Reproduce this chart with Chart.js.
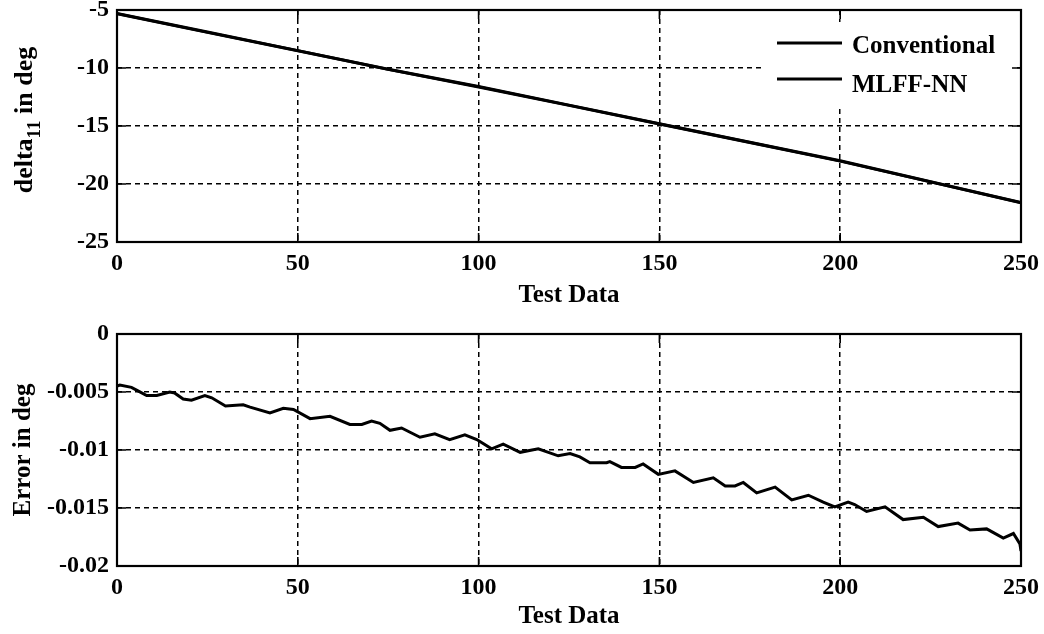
<!DOCTYPE html>
<html><head><meta charset="utf-8">
<script src="https://cdn.jsdelivr.net/npm/chart.js@4/dist/chart.umd.min.js"></script>
<style>
html,body{margin:0;padding:0;background:#fff;width:1044px;height:634px;overflow:hidden}
canvas{position:absolute;left:0}
#c1{top:0}#c2{top:317px}
</style></head><body>
<canvas id="c1" width="1044" height="317"></canvas>
<canvas id="c2" width="1044" height="317"></canvas>
<script>
// ---- data ----
const xTicks = [0, 50, 100, 150, 200, 250];
const topYTicks = [-25, -20, -15, -10, -5];
const errYTicks = [-0.02, -0.015, -0.01, -0.005, 0];
const errYLabels = ['-0.02', '-0.015', '-0.01', '-0.005', '0'];

const testX = [0, 25, 50, 75, 100, 125, 150, 175, 200, 225, 250];
const conventional = [-5.3, -6.9, -8.5, -10.1, -11.6, -13.2, -14.8, -16.4, -18.0, -19.8, -21.6];
const mlffnn = [-5.32, -6.93, -8.52, -10.12, -11.63, -13.22, -14.83, -16.42, -18.03, -19.82, -21.63];

const errX = [0, 0.8, 4, 5.8, 8.2, 11, 14.6, 16, 18.3, 20.6, 24.3, 26.2, 30, 34.9, 36.8, 42.3, 46, 48.8,
  53.4, 58.9, 64.4, 67.7, 70.4, 72.7, 75.5, 78.7, 83.8, 87.9, 92, 96.2, 99.5, 103.6, 106.8, 111.5, 116.5,
  122, 125.3, 128, 130.8, 135.4, 136.3, 139.5, 143.3, 145.5, 149.7, 154.3, 159.4, 164.9, 168.2, 170.9,
  173.2, 176.9, 182, 186.6, 191.2, 195.3, 198.5, 202.2, 204, 207.3, 212.4, 217.4, 223, 227.1, 232.6,
  235.9, 240.5, 245.1, 247.9, 249.7, 250];
const errY = [-0.0045, -0.0044, -0.0046, -0.0049, -0.0053, -0.0053, -0.0050, -0.0051, -0.0056, -0.0057,
  -0.0053, -0.0055, -0.0062, -0.0061, -0.0063, -0.0068, -0.0064, -0.0065, -0.0073, -0.0071, -0.0078,
  -0.0078, -0.0075, -0.0077, -0.0083, -0.0081, -0.0089, -0.0086, -0.0091, -0.0087, -0.0091, -0.0099,
  -0.0095, -0.0102, -0.0099, -0.0105, -0.0103, -0.0106, -0.0111, -0.0111, -0.0110, -0.0115, -0.0115,
  -0.0112, -0.0121, -0.0118, -0.0128, -0.0124, -0.0131, -0.0131, -0.0128, -0.0137, -0.0132, -0.0143,
  -0.0139, -0.0145, -0.0149, -0.0145, -0.0147, -0.0153, -0.0149, -0.0160, -0.0158, -0.0166, -0.0163,
  -0.0169, -0.0168, -0.0176, -0.0172, -0.0181, -0.0187];

// ---- style ----
const FONT = "'Liberation Serif', 'Times New Roman', serif";
Chart.defaults.color = '#000';
Chart.defaults.font.family = FONT;
Chart.defaults.font.weight = 'bold';

const framePlugin = {
  id: 'frame',
  afterDraw(chart) {
    const {ctx, chartArea: a, scales: {x, y}} = chart;
    ctx.save();
    ctx.strokeStyle = '#000';
    ctx.setLineDash([]);
    ctx.lineWidth = 1.6;
    ctx.beginPath();
    x.ticks.forEach(t => {
      const p = x.getPixelForValue(t.value);
      ctx.moveTo(p, a.bottom); ctx.lineTo(p, a.bottom - 9);
      ctx.moveTo(p, a.top); ctx.lineTo(p, a.top + 9);
    });
    y.ticks.forEach(t => {
      const p = y.getPixelForValue(t.value);
      ctx.moveTo(a.left, p); ctx.lineTo(a.left + 9, p);
      ctx.moveTo(a.right, p); ctx.lineTo(a.right - 9, p);
    });
    ctx.stroke();
    ctx.lineWidth = 2.2;
    ctx.strokeRect(a.left, a.top, a.right - a.left, a.bottom - a.top);
    ctx.restore();
  }
};

const legendPlugin = {
  id: 'insideLegend',
  afterDatasetsDraw(chart) {
    const {ctx, chartArea: a} = chart;
    ctx.save();
    ctx.fillStyle = '#fff';
    ctx.fillRect(a.right - 258, a.top + 12, 252, 84);
    ctx.strokeStyle = '#000';
    ctx.lineWidth = 3;
    ctx.font = 'bold 25px ' + FONT;
    ctx.fillStyle = '#000';
    ctx.textBaseline = 'alphabetic';
    const rows = [[a.top + 33, a.top + 43], [a.top + 69, a.top + 82]];
    chart.data.datasets.forEach((ds, i) => {
      ctx.beginPath();
      ctx.moveTo(a.right - 244, rows[i][0]);
      ctx.lineTo(a.right - 179, rows[i][0]);
      ctx.stroke();
      ctx.fillText(ds.label, a.right - 169, rows[i][1]);
    });
    ctx.restore();
  }
};

const yTitlePlugin = {
  id: 'yTitleSub',
  afterDraw(chart) {
    const {ctx, chartArea: a} = chart;
    const main = 'bold 26px ' + FONT, sub = 'bold 19px ' + FONT;
    const p1 = 'delta', p2 = '11', p3 = ' in deg';
    ctx.save();
    ctx.font = main; const w1 = ctx.measureText(p1).width, w3 = ctx.measureText(p3).width;
    ctx.font = sub; const w2 = ctx.measureText(p2).width;
    const total = w1 + w2 + w3;
    ctx.translate(32, (a.top + a.bottom) / 2 - 6);
    ctx.rotate(-Math.PI / 2);
    ctx.fillStyle = '#000';
    ctx.textBaseline = 'alphabetic';
    let x0 = -total / 2;
    ctx.font = main; ctx.fillText(p1, x0, 0); x0 += w1;
    ctx.font = sub; ctx.fillText(p2, x0, 8); x0 += w2;
    ctx.font = main; ctx.fillText(p3, x0, 0);
    ctx.restore();
  }
};

function fixedTicks(arr) {
  return function (scale) { scale.ticks = arr.map(v => ({value: v})); };
}
function fitW(w) {
  return function (scale) { scale.width = w; scale.paddingTop = 0; scale.paddingBottom = 0; };
}
function fitH(h) {
  return function (scale) { scale.height = h; scale.paddingLeft = 0; scale.paddingRight = 0; };
}

const gridOpts = {color: '#000', lineWidth: 1.5, drawTicks: false};
const borderOpts = {display: false, dash: [5, 4]};
const tickFont = {size: 24, weight: 'bold', family: FONT};
const titleFont = {size: 25, weight: 'bold', family: FONT};

new Chart(document.getElementById('c1'), {
  type: 'line',
  data: {
    datasets: [
      {label: 'Conventional', data: testX.map((v, i) => ({x: v, y: conventional[i]})),
       borderColor: '#000', borderWidth: 3, pointRadius: 0, tension: 0},
      {label: 'MLFF-NN', data: testX.map((v, i) => ({x: v, y: mlffnn[i]})),
       borderColor: '#000', borderWidth: 3, pointRadius: 0, tension: 0}
    ]
  },
  options: {
    responsive: false, animation: false, devicePixelRatio: 1,
    layout: {padding: {left: 0, top: 10, right: 23, bottom: 0}},
    plugins: {legend: {display: false}, tooltip: {enabled: false}},
    scales: {
      x: {type: 'linear', min: 0, max: 250, afterBuildTicks: fixedTicks(xTicks), afterFit: fitH(75),
          grid: gridOpts, border: borderOpts,
          ticks: {font: tickFont, padding: 7, maxRotation: 0, autoSkip: false},
          title: {display: true, text: 'Test Data', font: titleFont, padding: {top: 0, bottom: 6}}},
      y: {type: 'linear', min: -25, max: -5, afterBuildTicks: fixedTicks(topYTicks), afterFit: fitW(117),
          grid: gridOpts, border: borderOpts,
          ticks: {font: tickFont, padding: 8, autoSkip: false}}
    }
  },
  plugins: [legendPlugin, framePlugin, yTitlePlugin]
});

new Chart(document.getElementById('c2'), {
  type: 'line',
  data: {
    datasets: [
      {label: 'Error', data: errX.map((v, i) => ({x: v, y: errY[i]})),
       borderColor: '#000', borderWidth: 3, pointRadius: 0, tension: 0}
    ]
  },
  options: {
    responsive: false, animation: false, devicePixelRatio: 1,
    layout: {padding: {left: 0, top: 17, right: 23, bottom: 0}},
    plugins: {legend: {display: false}, tooltip: {enabled: false}},
    scales: {
      x: {type: 'linear', min: 0, max: 250, afterBuildTicks: fixedTicks(xTicks), afterFit: fitH(68),
          grid: gridOpts, border: borderOpts,
          ticks: {font: tickFont, padding: 7, maxRotation: 0, autoSkip: false},
          title: {display: true, text: 'Test Data', font: titleFont, padding: {top: 0, bottom: 2}}},
      y: {type: 'linear', min: -0.02, max: 0, afterBuildTicks: fixedTicks(errYTicks), afterFit: fitW(117),
          grid: gridOpts, border: borderOpts,
          ticks: {font: tickFont, padding: 8, autoSkip: false,
                  callback: (v) => { const i = errYTicks.findIndex(t => Math.abs(t - v) < 1e-9); return i >= 0 ? errYLabels[i] : ''; }},
          title: {display: true, text: 'Error in deg', font: titleFont, padding: {top: 9, bottom: 0}}}
    }
  },
  plugins: [framePlugin]
});
</script>
</body></html>
